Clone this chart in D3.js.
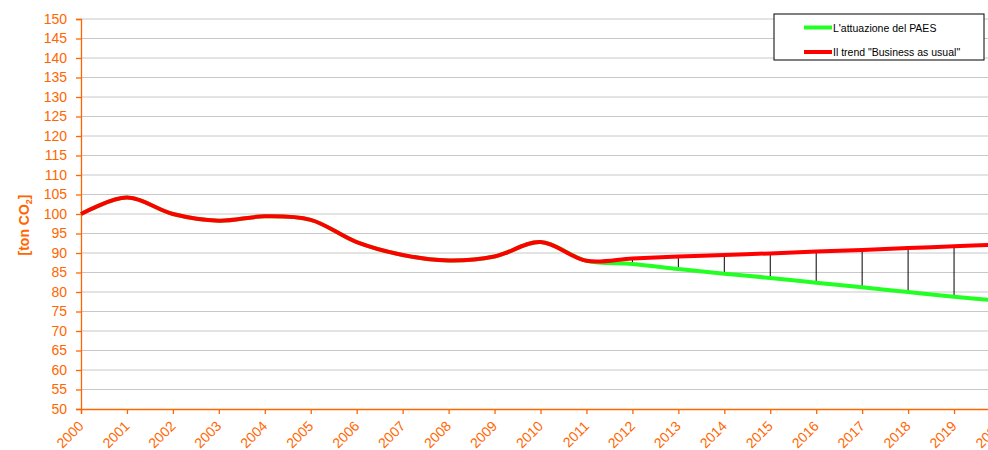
<!DOCTYPE html>
<html>
<head>
<meta charset="utf-8">
<script src="https://cdn.jsdelivr.net/npm/d3@7"></script>
<style>
  body { margin: 0; background: #fff; }
  svg { display: block; font-family: "Liberation Sans", Arial, sans-serif; }
</style>
</head>
<body>
<svg width="988" height="450"></svg>
<script>
var years = d3.range(2000, 2021);
var paes = [100, 104.2, 100, 98.3, 99.4, 98.5, 92.8, 89.5, 88.1, 89.1, 92.8, 88.0,
            87.2, 85.9, 84.7, 83.6, 82.4, 81.2, 80.0, 78.8, 77.7];
var bau  = [100, 104.2, 100, 98.3, 99.4, 98.5, 92.8, 89.5, 88.1, 89.1, 92.8, 88.0,
            88.6, 89.1, 89.5, 89.9, 90.4, 90.8, 91.3, 91.7, 92.2];
var yTicks = d3.range(50, 151, 5);
var legendLabels = ["L'attuazione del PAES", "Il trend \"Business as usual\""];

var orange = "#ff6600";
var svg = d3.select("svg");

var x = d3.scaleLinear().domain([2000, 2020]).range([81, 1000]);
var y = d3.scaleLinear().domain([50, 150]).range([409, 19]);

// gridlines
svg.append("g")
  .selectAll("line")
  .data(yTicks.slice(1))
  .enter().append("line")
    .attr("x1", x(2000)).attr("x2", 988)
    .attr("y1", function(d) { return y(d); })
    .attr("y2", function(d) { return y(d); })
    .attr("stroke", "#c8c8c8")
    .attr("stroke-width", 1);

// y axis
var yAxis = svg.append("g")
    .attr("transform", "translate(" + x(2000) + ",0)")
    .call(d3.axisLeft(y).tickValues(yTicks).tickSize(5).tickPadding(9));
yAxis.selectAll("text").attr("fill", orange).attr("font-size", 14);

// x axis
var xAxis = svg.append("g")
    .attr("transform", "translate(0," + y(50) + ")")
    .call(d3.axisBottom(x).tickValues(years).tickFormat(d3.format("d")).tickSize(5));
xAxis.selectAll("text")
    .attr("fill", orange)
    .attr("font-size", 14)
    .attr("text-anchor", "end")
    .attr("x", 0).attr("y", 0).attr("dy", 0)
    .attr("transform", "translate(3,18) rotate(-45)");

svg.selectAll(".domain, .tick line").attr("stroke", orange).attr("stroke-width", 1.3);
svg.selectAll(".tick text").attr("font-family", "Liberation Sans, Arial, sans-serif");

// y label
var yl = svg.append("text")
    .attr("transform", "translate(29,225) rotate(-90)")
    .attr("text-anchor", "middle")
    .attr("fill", orange)
    .attr("font-weight", "bold")
    .attr("font-size", 14);
yl.append("tspan").text("[ton CO");
yl.append("tspan").attr("font-size", 9).attr("dy", 3).text("2");
yl.append("tspan").attr("dy", -3).text("]");

// drop lines
var proj = d3.range(12, 20);
svg.append("g")
  .selectAll("line")
  .data(proj)
  .enter().append("line")
    .attr("x1", function(i) { return x(years[i]); })
    .attr("x2", function(i) { return x(years[i]); })
    .attr("y1", function(i) { return y(bau[i]); })
    .attr("y2", function(i) { return y(paes[i]); })
    .attr("stroke", "#000")
    .attr("stroke-width", 1);

var line = d3.line()
    .curve(d3.curveCatmullRom.alpha(0.5))
    .x(function(d, i) { return x(years[i]); })
    .y(function(d) { return y(d); });

svg.append("path")
  .datum(paes)
  .attr("fill", "none")
  .attr("stroke", "#22ff22")
  .attr("stroke-width", 4)
  .attr("stroke-linejoin", "round")
  .attr("d", line);

svg.append("path")
  .datum(bau)
  .attr("fill", "none")
  .attr("stroke", "#ff0000")
  .attr("stroke-width", 4)
  .attr("stroke-linejoin", "round")
  .attr("d", line);

// legend
var lg = svg.append("g").attr("transform", "translate(774,14)");
lg.append("rect")
    .attr("width", 210).attr("height", 46)
    .attr("fill", "#fff").attr("stroke", "#000").attr("stroke-width", 1);
var colors = ["#22ff22", "#ff0000"];
legendLabels.forEach(function(t, i) {
  var yy = 13.5 + i * 24.5;
  lg.append("line")
    .attr("x1", 30).attr("x2", 58)
    .attr("y1", yy).attr("y2", yy)
    .attr("stroke", colors[i]).attr("stroke-width", 4);
  lg.append("text")
    .attr("x", 59).attr("y", yy + 4)
    .attr("font-size", 10.5)
    .attr("fill", "#000")
    .text(t);
});
</script>
</body>
</html>
